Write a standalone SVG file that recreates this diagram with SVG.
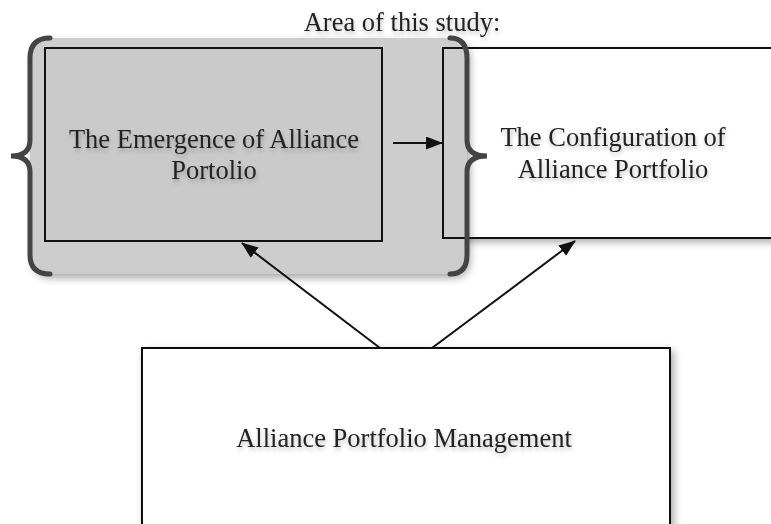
<svg xmlns="http://www.w3.org/2000/svg" width="771" height="524" viewBox="0 0 771 524">
<style>
.box{stroke:#111;stroke-width:2}
.lbl{font-family:"Liberation Serif","Times New Roman",serif;font-size:26.5px;fill:#222;text-anchor:middle}
.brace{fill:none;stroke:#444;stroke-width:5;stroke-linecap:round}
.conn{stroke:#111;stroke-width:2;fill:none}
</style>
<defs>
<filter id="sh" x="-10%" y="-10%" width="125%" height="125%">
<feGaussianBlur in="SourceAlpha" stdDeviation="4"/>
<feOffset dx="3" dy="4"/>
<feComponentTransfer><feFuncA type="linear" slope="0.35"/></feComponentTransfer>
<feMerge><feMergeNode/><feMergeNode in="SourceGraphic"/></feMerge>
</filter>
<filter id="tsh" x="-5%" y="-30%" width="110%" height="180%">
<feGaussianBlur in="SourceAlpha" stdDeviation="2"/>
<feOffset dx="1" dy="3"/>
<feComponentTransfer><feFuncA type="linear" slope="0.25"/></feComponentTransfer>
<feMerge><feMergeNode/><feMergeNode in="SourceGraphic"/></feMerge>
</filter>
<marker id="ah" markerWidth="17" markerHeight="13" refX="16" refY="6.5" orient="auto" markerUnits="userSpaceOnUse">
<path d="M0,0 L17,6.5 L0,13 Z" fill="#111"/>
</marker>
</defs>
<rect width="771" height="524" fill="#fff"/>

<g id="configuration-fill">
<rect x="443" y="48" width="340" height="190" fill="#fff" filter="url(#sh)"/>
</g>

<g id="study-area">
<rect x="30" y="38" width="437" height="236" rx="16" fill="#cdcdcd" filter="url(#sh)"/>
<text class="lbl" x="402" y="31" filter="url(#tsh)">Area of this study:</text>
</g>

<g id="emergence">
<rect class="box" x="45" y="48" width="337" height="193" fill="#cacaca"/>
<text class="lbl" x="214" y="148" filter="url(#tsh)">The Emergence of Alliance</text>
<text class="lbl" x="214" y="179" filter="url(#tsh)">Portolio</text>
</g>

<g id="configuration">
<rect class="box" x="443" y="48" width="340" height="190" fill="none"/>
<text class="lbl" x="613" y="146" filter="url(#tsh)">The Configuration of</text>
<text class="lbl" x="613" y="178" filter="url(#tsh)">Alliance Portfolio</text>
</g>

<g id="braces">
<path class="brace" d="M50,38 Q30,38 30,58 L30,140 Q30,156 11,156 Q30,156 30,172 L30,255 Q30,274 50,274"/>
<path class="brace" d="M450,38 Q467,38 467,58 L467,140 Q467,156 487,156 Q467,156 467,172 L467,255 Q467,274 450,274"/>
</g>

<g id="management">
<rect class="box" x="142" y="348" width="528" height="190" fill="#fff" filter="url(#sh)"/>
<text class="lbl" x="404" y="447" filter="url(#tsh)">Alliance Portfolio Management</text>
</g>

<g id="connectors">
<line class="conn" x1="393" y1="143" x2="442" y2="143" marker-end="url(#ah)"/>
<line class="conn" x1="380" y1="348" x2="242" y2="243" marker-end="url(#ah)"/>
<line class="conn" x1="432" y1="348" x2="575" y2="241" marker-end="url(#ah)"/>
</g>
</svg>
